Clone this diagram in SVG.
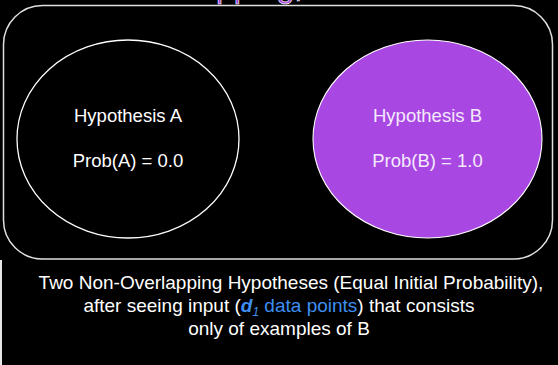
<svg xmlns="http://www.w3.org/2000/svg" width="558" height="365" viewBox="0 0 558 365">
<style>
.t{font-family:"Liberation Sans",Arial,sans-serif;text-anchor:middle}
.n{font-size:18.5px}
.c{font-size:19px;fill:#ffffff}
.hl{fill:#3d8ff2}
</style>
<rect x="0" y="0" width="558" height="365" fill="#000000"/>
<rect x="0" y="260" width="2" height="105" fill="#e6e6e6"/>
<text x="216" y="-3" font-family="Liberation Sans,Arial,sans-serif" font-size="32" fill="#a747e0" stroke="#ffffff" stroke-width="0.6">pping,</text>
<rect x="3.5" y="5.5" width="549" height="253.5" rx="39" ry="39" fill="none" stroke="#e0e0e0" stroke-width="1.5"/>
<g id="hypA">
<ellipse cx="128" cy="139" rx="111" ry="99" fill="#000000" stroke="#ffffff" stroke-width="1.3"/>
<text class="t n" x="128" y="122" fill="#ffffff">Hypothesis A</text>
<text class="t n" x="128" y="167" fill="#ffffff">Prob(A) = 0.0</text>
</g>
<g id="hypB">
<ellipse cx="427.5" cy="139" rx="114.5" ry="99" fill="#a947e3" stroke="#ffffff" stroke-width="1.1"/>
<text class="t n" x="427.5" y="122" fill="#f4eafb">Hypothesis B</text>
<text class="t n" x="427.5" y="167" fill="#f4eafb">Prob(B) = 1.0</text>
</g>
<g id="connectors"></g>
<g id="caption">
<text class="t c" x="291" y="289">Two Non-Overlapping Hypotheses (Equal Initial Probability),</text>
<text class="t c" x="279" y="312">after seeing input (<tspan class="hl" font-style="italic" font-weight="bold">d</tspan><tspan class="hl" font-style="italic" font-size="12" dy="4">1</tspan><tspan class="hl" dy="-4"> data points</tspan>) that consists</text>
<text class="t c" x="279" y="335">only of examples of B</text>
</g>
</svg>
